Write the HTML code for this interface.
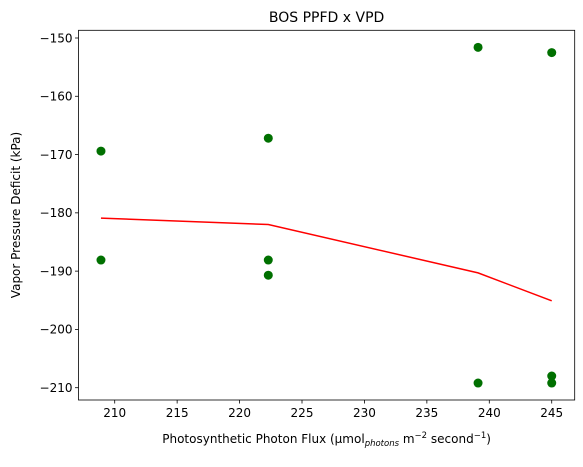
<!DOCTYPE html>
<html><head><meta charset="utf-8"><style>
body{margin:0;background:#fff;}
svg text{font-family:"DejaVu Sans","Liberation Sans",sans-serif;fill:#000;}
</style></head><body>
<svg id="chart" width="583" height="462" xmlns="http://www.w3.org/2000/svg">
<rect width="583" height="462" fill="#fff"/>
<g id="plot"></g>
<text x="326.6" y="22" font-size="14" text-anchor="middle">BOS PPFD x VPD</text>
<text x="326.6" y="443" font-size="12" text-anchor="middle">Photosynthetic Photon Flux (µmol<tspan font-size="8.5" font-style="italic" dy="3">photons</tspan><tspan dy="-3"> m</tspan><tspan font-size="8.5" dy="-5">−2</tspan><tspan dy="5"> second</tspan><tspan font-size="8.5" dy="-5">−1</tspan><tspan dy="5">)</tspan></text>
<text transform="translate(20,215) rotate(-90)" font-size="12" text-anchor="middle">Vapor Pressure Deficit (kPa)</text>
</svg>
<script>
const scatterX = [208.9, 208.9, 222.3, 222.3, 222.3, 239.1, 239.1, 245.0, 245.0, 245.0];
const scatterY = [-169.4, -188.1, -167.2, -188.1, -190.7, -151.6, -209.2, -152.5, -208.0, -209.2];
const lineX = [208.9, 222.3, 239.1, 245.0];
const lineY = [-180.9, -182.0, -190.3, -195.1];
const xTicks = [210, 215, 220, 225, 230, 235, 240, 245];
const yTicks = [-150, -160, -170, -180, -190, -200, -210];

const L=78.5,R=574.7,T=30.3,B=400;
const x0=207.1,x1=246.84,y0=-212.11,y1=-148.68;
function sx(v){return L+(v-x0)/(x1-x0)*(R-L);}
function sy(v){return B-(v-y0)/(y1-y0)*(B-T);}
const NS="http://www.w3.org/2000/svg";
const g=document.getElementById('plot');
function mk(t,a){const e=document.createElementNS(NS,t);for(const k in a)e.setAttribute(k,a[k]);g.appendChild(e);return e;}

xTicks.forEach(v=>{
  const x=sx(v);
  const t=mk('line',{x1:x,x2:x,y1:B,y2:B+3.5,stroke:'#000','stroke-width':0.8});
  
  
  const l=mk('text',{x:x,y:B+17,'font-size':12,'text-anchor':'middle'});
  l.textContent=v;
  
  
});
yTicks.forEach(v=>{
  const y=sy(v);
  const t=mk('line',{x1:L-3.5,x2:L,y1:y,y2:y,stroke:'#000','stroke-width':0.8});
  
  
  const l=mk('text',{x:L-6,y:y+4.3,'font-size':12,'text-anchor':'end'});
  l.textContent='\u2212'+Math.abs(v);
  
  
});
scatterX.forEach((v,i)=>{
  const c=mk('circle',{cx:sx(v),cy:sy(scatterY[i]),r:4.5,fill:'#007000'});
  
  
});
const p=mk('polyline',{points:lineX.map((v,i)=>sx(v)+','+sy(lineY[i])).join(' '),fill:'none',stroke:'#ff0000','stroke-width':1.5});


const f=mk('rect',{x:L,y:T,width:R-L,height:B-T,fill:'none',stroke:'#000','stroke-width':0.8});


</script>
</body></html>
